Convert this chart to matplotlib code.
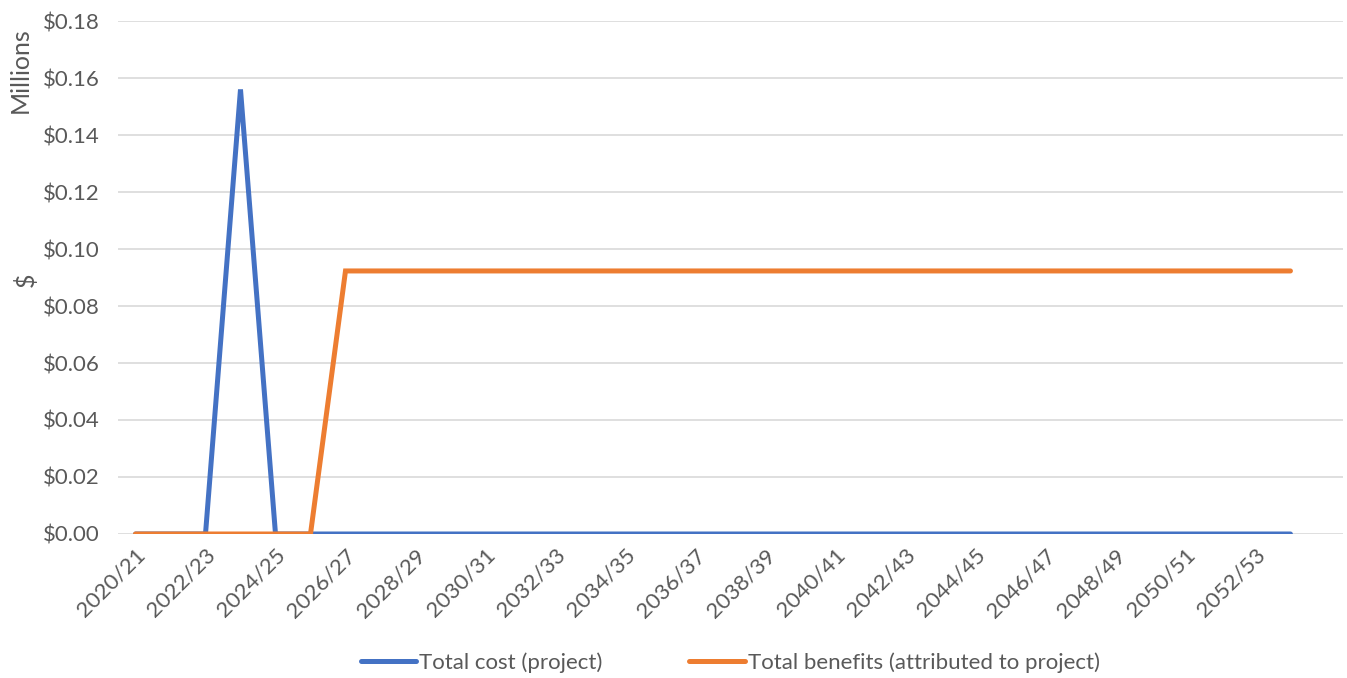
import numpy as np
import matplotlib.pyplot as plt
from matplotlib.ticker import FuncFormatter, MultipleLocator

# financial years 2020/21 .. 2053/54
years = ['%d/%02d' % (y, (y + 1) % 100) for y in range(2020, 2054)]
total_cost = [0, 0, 0, 0.156, 0] + [0] * 29
total_benefits = [0, 0, 0, 0, 0, 0] + [0.0923] * 28

plt.rcParams['font.family'] = ['Lato', 'DejaVu Sans']
grey = '#595959'
fs = 16

fig = plt.figure(figsize=(13.47, 6.78), dpi=100)
ax = fig.add_axes([0.0876, 0.2124, 0.9094, 0.7566])

x = np.arange(len(years))
ax.plot(x, total_cost, color='#4472C4', linewidth=3.6, label='Total cost (project)',
        solid_capstyle='round', solid_joinstyle='miter')
ax.plot(x, total_benefits, color='#ED7D31', linewidth=3.6,
        label='Total benefits (attributed to project)',
        solid_capstyle='round', solid_joinstyle='miter')

ax.set_xlim(-0.5, 34.5)
ax.set_ylim(0, 0.18)
ax.yaxis.set_major_locator(MultipleLocator(0.02))
ax.yaxis.set_major_formatter(FuncFormatter(lambda v, p: '$%.2f' % v))
ax.set_xticks(x[::2])
ax.set_xticklabels(years[::2], rotation=45, ha='right', rotation_mode='anchor')

ax.grid(axis='y', color='#d9d9d9', linewidth=1.2)
ax.set_axisbelow(True)
for s in ax.spines.values():
    s.set_visible(False)
ax.tick_params(axis='both', length=0, labelsize=fs, labelcolor=grey)
ax.tick_params(axis='y', pad=13)
ax.tick_params(axis='x', pad=8)

fig.text(0.019, 0.587, '$', rotation=90, fontsize=18, color=grey,
         ha='center', va='center')
fig.text(0.015, 0.896, 'Millions', rotation=90, fontsize=18, color=grey,
         ha='center', va='center')

ax.legend(loc='center', bbox_to_anchor=(0.5, -0.25), ncol=2, frameon=False,
          fontsize=fs, labelcolor=grey, handlelength=2.5, handletextpad=0.15,
          columnspacing=3.9)

fig.savefig('out.png', dpi=100)
